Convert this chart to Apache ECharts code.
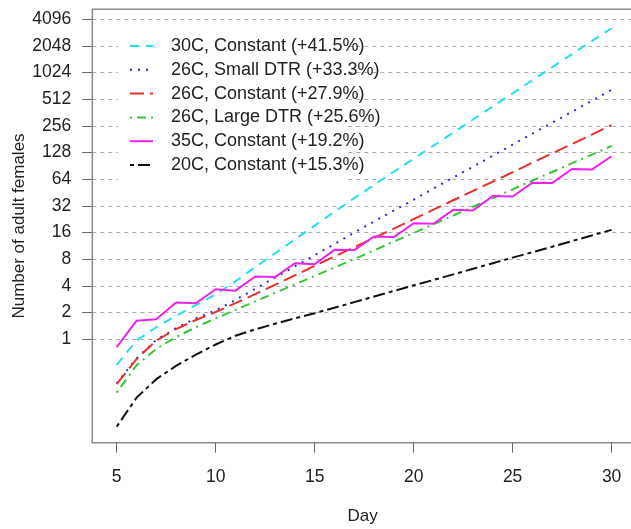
<!DOCTYPE html>
<html>
<head>
<meta charset="utf-8">
<script src="https://cdn.jsdelivr.net/npm/echarts@6/dist/echarts.min.js"></script>
<style>html,body{margin:0;padding:0;background:#fff}#c{width:631px;height:529px}</style>
</head>
<body>
<div id="c"></div>
<script>
const days = [5,6,7,8,9,10,11,12,13,14,15,16,17,18,19,20,21,22,23,24,25,26,27,28,29,30];
const yTicks = [1,2,4,8,16,32,64,128,256,512,1024,2048,4096];
const xTicks = [5,10,15,20,25,30];
const names = ['30C, Constant (+41.5%)','26C, Small DTR (+33.3%)','26C, Constant (+27.9%)','26C, Large DTR (+25.6%)','35C, Constant (+19.2%)','20C, Constant (+15.3%)'];
const c30 = [0.514,0.966,1.366,1.84,2.43,3.2,4.5,6.5,9.32,13.36,19.16,27.5,39.1,55.3,77.7,109,153,215,302,425,596,838,1176,1652,2320,3236];
const d26small = [0.316,0.607,0.979,1.338,1.717,2.114,2.77,3.71,4.96,6.64,8.88,11.88,16.0,21.3,28.3,37.5,50.2,66.7,88.6,117.8,157.6,209,278,370,491,653];
const c26 = [0.312,0.595,0.966,1.301,1.647,2.028,2.549,3.227,4.113,5.242,6.73,8.57,10.93,13.93,17.75,22.63,29.0,37.0,47.2,60.1,76.6,98.4,125.4,159.8,203.7,261.4];
const d26large = [0.25,0.507,0.779,1.057,1.366,1.717,2.144,2.676,3.34,4.141,5.17,6.45,8.0,10.06,12.64,15.78,19.84,24.9,31.3,39.1,49.2,61.8,77.2,97.0,121.1,152.2];
const c35 = [0.812,1.613,1.682,2.594,2.549,3.668,3.531,5.098,5.028,7.21,7.013,10.2,10.13,14.42,14.22,20.39,20.11,28.84,28.44,41.36,40.79,58.49,58.08,83.29,82.14,116.2];
const c20 = [0.103,0.218,0.354,0.5,0.669,0.871,1.094,1.292,1.495,1.717,1.966,2.266,2.621,3.031,3.506,4.056,4.659,5.389,6.233,7.21,8.34,9.58,11.08,12.82,14.83,17.15];

const seriesValues = [c30, d26small, c26, d26large, c35, c20];
const colors = ['#22e0ea','#2a2ae0','#e8302a','#35c535','#ee22ee','#111111'];
const dashes = [[9,7],[2,6],[14,6],[2,5,9,5],'solid',[4,4,12,4]];

const FONT = 'Liberation Sans';
const chart = echarts.init(document.getElementById('c'), null, {renderer:'canvas'});
chart.setOption({
  animation:false,
  backgroundColor:'#fff',
  textStyle:{fontFamily:FONT},
  grid:{left:92.3, top:9.3, right:-2, bottom:86.3, show:true, borderColor:'#8a8a8a', borderWidth:1.5,
        backgroundColor:'transparent', outerBoundsMode:'none', containLabel:false},
  graphic:[{type:'rect', z:1, shape:{x:118, y:31, width:230, height:157}, style:{fill:'#fff'}}],
  legend:{
    orient:'vertical', left:129, top:36, padding:0, itemGap:3.8,
    itemWidth:23, itemHeight:14, selectedMode:false,
    itemStyle:{opacity:0},
    textStyle:{fontFamily:FONT, fontSize:18, color:'#222', lineHeight:20, padding:[0,0,0,13]},
    data:names
  },
  xAxis:{
    type:'value', min:3.77, max:31.08,
    name:'Day', nameLocation:'middle', nameGap:65, nameMoveOverlap:false,
    nameTextStyle:{fontFamily:FONT, fontSize:17, color:'#222'},
    axisLine:{show:false},
    axisTick:{show:true, length:10, inside:false, customValues:xTicks, lineStyle:{color:'#666', width:1}},
    axisLabel:{customValues:xTicks, margin:25, fontFamily:FONT, fontSize:17.5, color:'#222'},
    splitLine:{show:false}
  },
  yAxis:{
    type:'log', logBase:2, min:0.0679, max:5294,
    name:'Number of adult females', nameLocation:'middle', nameGap:64, nameRotate:90, nameMoveOverlap:false,
    nameTextStyle:{fontFamily:FONT, fontSize:17, color:'#222'},
    axisLine:{show:false},
    axisTick:{show:true, length:10, inside:false, customValues:yTicks, lineStyle:{color:'#666', width:1}},
    axisLabel:{customValues:yTicks, margin:21, fontFamily:FONT, fontSize:17.5, color:'#222',
               formatter:(v)=>String(Math.round(v))},
    splitLine:{show:true, lineStyle:{color:'#aaa', width:1, type:[4,4]}}
  },
  series: names.map((n,i)=>({
    name:n, type:'line', symbol:'none', z:3,
    data: days.map((d,j)=>[d, seriesValues[i][j]]),
    lineStyle:{color:colors[i], width:2, type:dashes[i]},
    itemStyle:{color:colors[i]}
  }))
});
</script>
</body>
</html>
